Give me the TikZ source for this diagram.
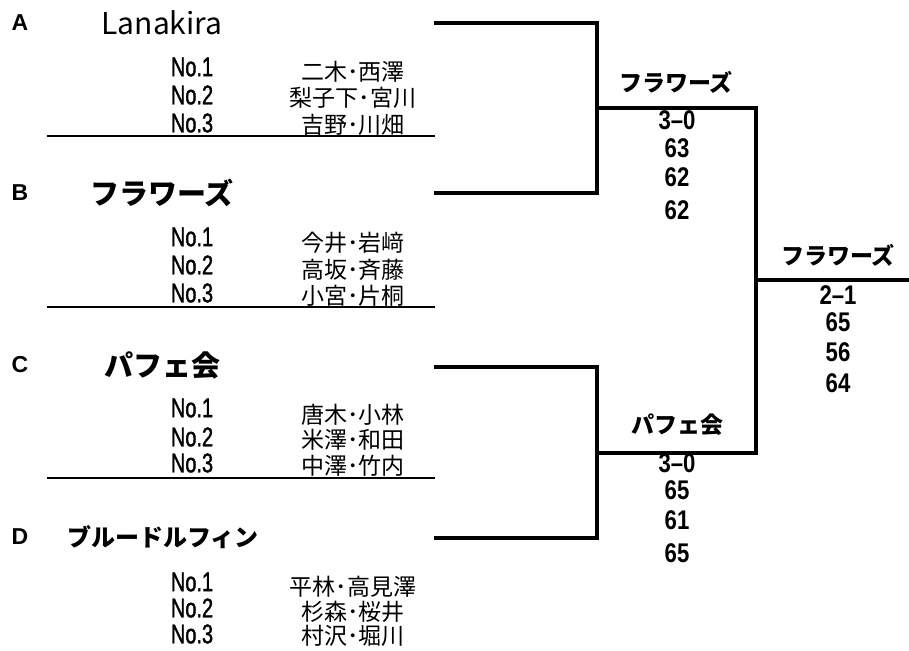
\documentclass[tikz,border=0pt]{standalone}
\usepackage{fontspec}
\usepackage{tikz}
\usetikzlibrary{positioning}
\newfontfamily\jpfont{Noto Sans CJK JP}
\newfontfamily\latinfont{Liberation Sans}
\newfontfamily\narrowfont[FakeStretch=0.74,FakeBold=1.4]{Liberation Sans}
\newfontfamily\scorefont[FakeStretch=0.82]{Liberation Sans}
\newcommand{\setfs}[1]{\fontsize{#1}{#1}\selectfont}

\begin{document}
\begin{tikzpicture}[x=1pt,y=1pt,
  every node/.style={inner sep=0pt, outer sep=0pt, anchor=center},
  blockletter/.style={font=\latinfont\bfseries\setfs{23}},
  teamname/.style={font=\jpfont\bfseries\setfs{29}},
  seatno/.style={font=\narrowfont\setfs{27}},
  pairname/.style={font=\jpfont\setfs{23}},
  winner/.style={font=\jpfont\bfseries\setfs{23}},
  score/.style={font=\scorefont\bfseries\setfs{27}},
  bracket/.style={line width=4pt, line join=miter},
  underrule/.style={line width=1.4pt}]
\definecolor{fillColor}{RGB}{255,255,255}
\path[use as bounding box,fill=fillColor] (0,0) rectangle (909,650);

% block A
\node[blockletter] (letterA) at ( 20,627) {A};
\node[teamname,font=\jpfont\setfs{30}] (teamA) at (162,627) {Lanakira};
\node[seatno] (noA1) at (192,583) {No.1};
\node[seatno] (noA2) at (192,555) {No.2};
\node[seatno] (noA3) at (192,527) {No.3};
\node[pairname] (pairA1) at (353,578) {二木･西澤};
\node[pairname] (pairA2) at (353,552) {梨子下･宮川};
\node[pairname] (pairA3) at (353,525) {吉野･川畑};
\coordinate (ruleAl) at ( 47,514);
\coordinate (ruleAr) at (435,514);
\draw[underrule] (ruleAl) -- (ruleAr);

% block B
\node[blockletter] (letterB) at ( 20,457) {B};
\node[teamname] (teamB) at (162,457) {フラワーズ};
\node[seatno] (noB1) at (192,413) {No.1};
\node[seatno] (noB2) at (192,385) {No.2};
\node[seatno] (noB3) at (192,357) {No.3};
\node[pairname] (pairB1) at (353,407) {今井･岩﨑};
\node[pairname] (pairB2) at (353,380) {高坂･斉藤};
\node[pairname] (pairB3) at (353,354) {小宮･片桐};
\coordinate (ruleBl) at ( 47,343);
\coordinate (ruleBr) at (435,343);
\draw[underrule] (ruleBl) -- (ruleBr);

% block C
\node[blockletter] (letterC) at ( 20,285) {C};
\node[teamname] (teamC) at (162,285) {パフェ会};
\node[seatno] (noC1) at (192,242) {No.1};
\node[seatno] (noC2) at (192,213) {No.2};
\node[seatno] (noC3) at (192,187) {No.3};
\node[pairname] (pairC1) at (353,235) {唐木･小林};
\node[pairname] (pairC2) at (353,210) {米澤･和田};
\node[pairname] (pairC3) at (353,184) {中澤･竹内};
\coordinate (ruleCl) at ( 47,172);
\coordinate (ruleCr) at (435,172);
\draw[underrule] (ruleCl) -- (ruleCr);

% block D
\node[blockletter] (letterD) at ( 20,113) {D};
\node[teamname,font=\jpfont\bfseries\setfs{24}] (teamD) at (163,113) {ブルードルフィン};
\node[seatno] (noD1) at (192, 68) {No.1};
\node[seatno] (noD2) at (192, 42) {No.2};
\node[seatno] (noD3) at (192, 16) {No.3};
\node[pairname] (pairD1) at (353, 63) {平林･高見澤};
\node[pairname] (pairD2) at (353, 38) {杉森･桜井};
\node[pairname] (pairD3) at (353, 14) {村沢･堀川};

% bracket
\coordinate (endA) at (434,627);
\coordinate (endB) at (434,457);
\coordinate (endC) at (434,283);
\coordinate (endD) at (434,112);
\coordinate (semi1) at (597,542);
\coordinate (semi2) at (597,197);
\coordinate (final) at (756,370);
\coordinate (champ) at (909,370);
\draw[bracket] (endA) -| (semi1) |- (endB);
\draw[bracket] (endC) -| (semi2) |- (endD);
\draw[bracket] (semi1) -| (final) |- (semi2);
\draw[bracket] (final) -- (champ);

% semi-final 1
\node[winner] (win1) at (676,568) {フラワーズ};
\node[score] (set1) at (677,530) {3–0};
\node[score] (g11) at (677,502) {63};
\node[score] (g12) at (677,473) {62};
\node[score] (g13) at (677,440) {62};

% semi-final 2
\node[winner] (win2) at (677,225) {パフェ会};
\node[score] (set2) at (677,187) {3–0};
\node[score] (g21) at (677,160) {65};
\node[score] (g22) at (677,130) {61};
\node[score] (g23) at (677, 97) {65};

% final
\node[winner] (win3) at (838,395) {フラワーズ};
\node[score] (set3) at (838,355) {2–1};
\node[score] (g31) at (838,328) {65};
\node[score] (g32) at (838,298) {56};
\node[score] (g33) at (838,267) {64};
\end{tikzpicture}
\end{document}
